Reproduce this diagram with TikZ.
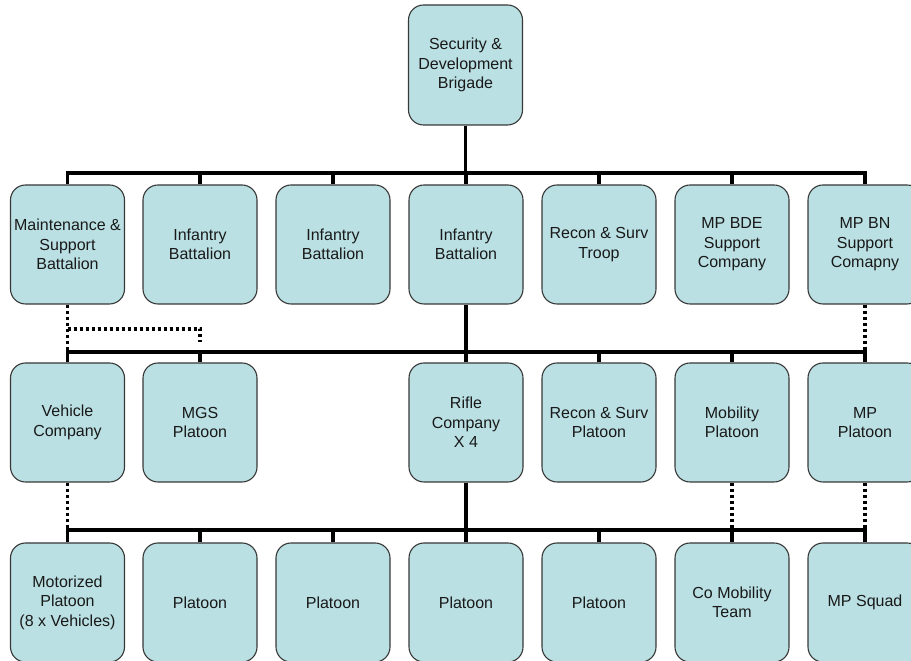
\documentclass[tikz,border=0pt]{standalone}
\usepackage{fontspec}
\setmainfont{Liberation Sans}
\usepackage{xcolor}
\definecolor{unitfill}{RGB}{186,224,227}
\definecolor{unitline}{RGB}{56,56,56}
\begin{document}
\begin{tikzpicture}[x=1pt,y=1pt,
  main/.style = {draw=unitline, line width=1.1pt, fill=unitfill, rounded corners=15pt,
    minimum width=114pt, minimum height=119pt, inner sep=0pt, align=center,
    text=black!90, font=\fontsize{16}{19.5}\selectfont},
  link/.style = {line width=3.5pt, line join=miter},
  dots/.style = {line width=3.2pt, dash pattern=on 3pt off 3pt}]
\clip (0,0) rectangle (911,661);
\coordinate (bus1) at (0,488);
\coordinate (bus2) at (0,309);
\coordinate (bus3) at (0,131);
\coordinate (dot) at (0,332);
\coordinate (dotend) at (0,319);
% brigade
\node[main, minimum height=120pt] (top) at (465.5,596) {Security \&\\Development\\Brigade};
% battalions
\node[main] (a1) at (67.5,416.5) {Maintenance \&\\Support\\Battalion};
\node[main] (a2) at (200,416.5) {Infantry\\Battalion};
\node[main] (a3) at (333,416.5) {Infantry\\Battalion};
\node[main] (a4) at (466,416.5) {Infantry\\Battalion};
\node[main] (a5) at (599,416.5) {Recon \& Surv\\Troop};
\node[main] (a6) at (732,416.5) {MP BDE\\Support\\Company};
\node[main] (a7) at (865,416.5) {MP BN\\Support\\Comapny};
% companies
\node[main] (b1) at (67.5,238.5) {Vehicle\\Company};
\node[main] (b2) at (200,238.5) {MGS\\Platoon};
\node[main] (b4) at (466,238.5) {Rifle\\Company\\X 4};
\node[main] (b5) at (599,238.5) {Recon \& Surv\\Platoon};
\node[main] (b6) at (732,238.5) {Mobility\\Platoon};
\node[main] (b7) at (865,238.5) {MP\\Platoon};
% platoons
\node[main] (c1) at (67.5,58.5) {Motorized\\Platoon\\(8 x Vehicles)};
\node[main] (c2) at (200,58.5) {Platoon};
\node[main] (c3) at (333,58.5) {Platoon};
\node[main] (c4) at (466,58.5) {Platoon};
\node[main] (c5) at (599,58.5) {Platoon};
\node[main] (c6) at (732,58.5) {Co Mobility\\Team};
\node[main] (c7) at (865,58.5) {MP Squad};
% dotted links
\draw[dots] (a1.south) -- (b1.north);
\draw[dots] (a1.south |- dot) -- (b2.north |- dot) -- (b2.north |- dotend);
\draw[dots] (a7.south) -- (a7.south |- bus2);
\draw[dots] (b1.south) -- (b1.south |- bus3);
\draw[dots] (b6.south) -- (b6.south |- bus3);
\draw[dots] (b7.south) -- (b7.south |- bus3);
% solid links
\draw[link] (top.south) -- (top.south |- bus1);
\draw[link] (a1.north) -- (a1.north |- bus1) -- (a7.north |- bus1) -- (a7.north);
\foreach \n in {2,...,6} \draw[link] (a\n.north) -- (a\n.north |- bus1);
\draw[link] (a4.south) -- (a4.south |- bus2);
\draw[link] (b1.north) -- (b1.north |- bus2) -- (b7.north |- bus2) -- (b7.north);
\foreach \n in {2,4,5,6} \draw[link] (b\n.north) -- (b\n.north |- bus2);
\draw[link] (b4.south) -- (b4.south |- bus3);
\draw[link] (c1.north) -- (c1.north |- bus3) -- (c7.north |- bus3) -- (c7.north);
\foreach \n in {2,...,6} \draw[link] (c\n.north) -- (c\n.north |- bus3);
\end{tikzpicture}
\end{document}
